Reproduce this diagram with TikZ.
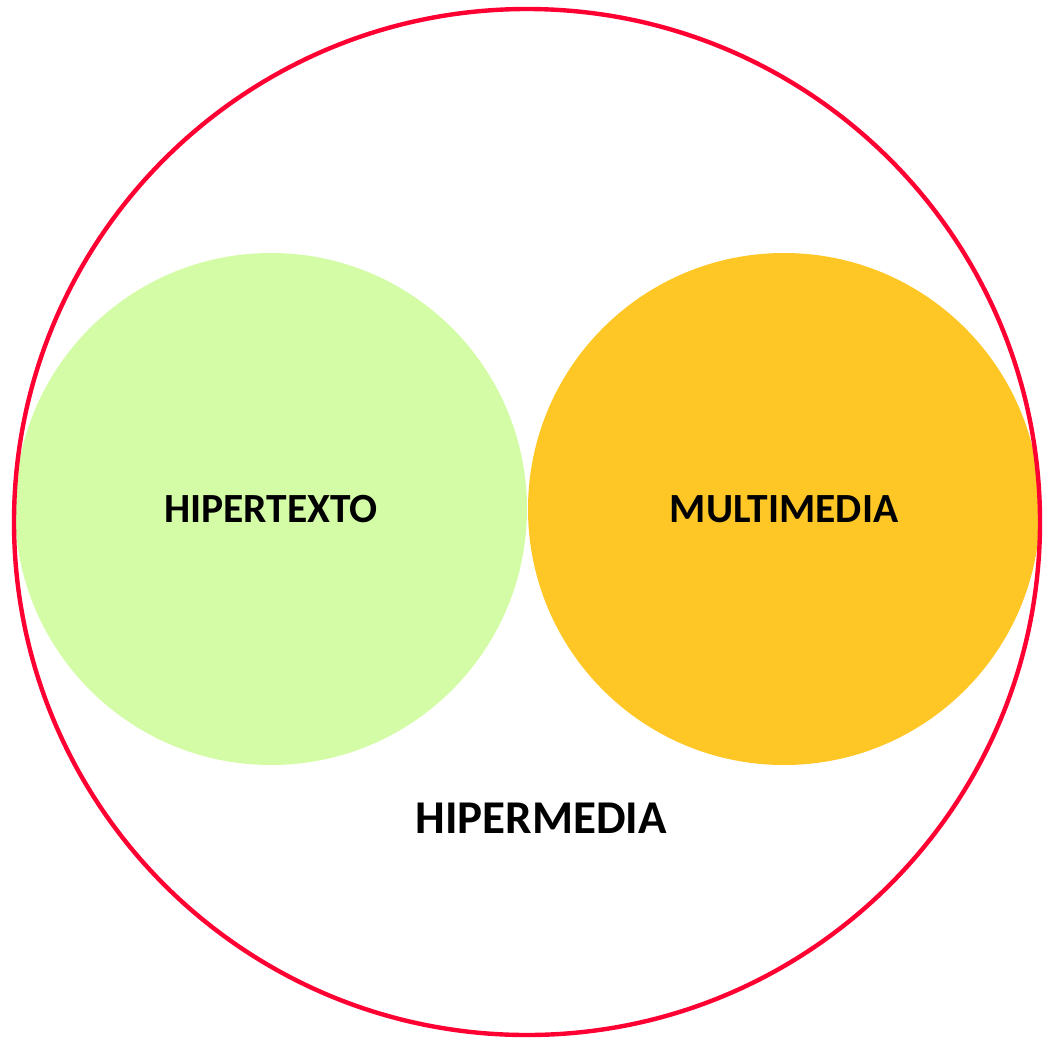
\documentclass[tikz,border=0pt]{standalone}
\usepackage{fontspec}
\setmainfont{Carlito}
\usepackage{tikz}
\usetikzlibrary{calc}

\definecolor{hiperred}{RGB}{255,0,51}
\definecolor{hipergreen}{RGB}{212,252,166}
\definecolor{hiperorange}{RGB}{255,199,38}

\begin{document}
\begin{tikzpicture}[x=1pt, y=-1pt,
        set_style/.style={circle, inner sep=0pt, minimum size=512pt, font=\fontsize{41.5}{46}\selectfont\bfseries},
        outer_style/.style={circle, draw=hiperred, line width=4.4pt, inner sep=0pt, minimum size=1026pt},
        label_style/.style={font=\fontsize{47}{52}\selectfont\bfseries}]

        \useasboundingbox (0,0) rectangle (1049,1039);

        \node [set_style, fill=hipergreen](n1) at (271,509) {HIPERTEXTO};

        \node [set_style, fill=hiperorange](n2) at (784,509) {MULTIMEDIA};

        \node [outer_style](n3) at (527,522) {};

        \node [label_style](n4) at (541,818) {HIPERMEDIA};

        \end{tikzpicture}
\end{document}
